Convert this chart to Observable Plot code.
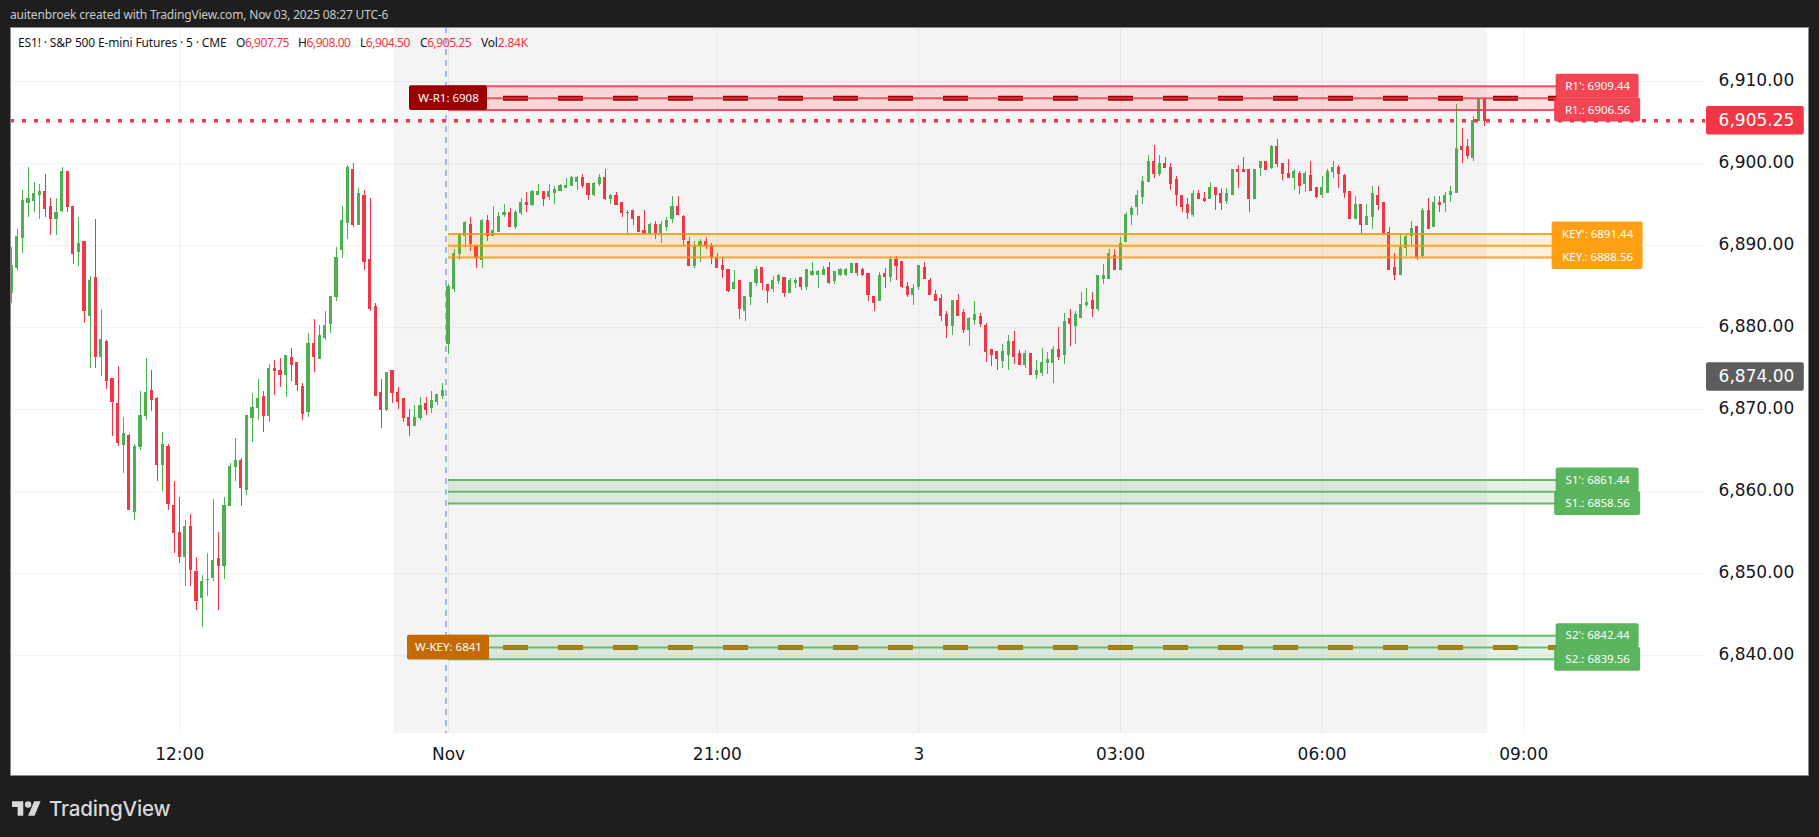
<!DOCTYPE html>
<html>
<head>
<meta charset="utf-8">
<script src="https://cdn.jsdelivr.net/npm/d3@7"></script>
<script src="https://cdn.jsdelivr.net/npm/@observablehq/plot@0.6"></script>
<style>
html,body{margin:0;padding:0;background:#1e1e1e;width:1819px;height:837px;overflow:hidden}
#top{height:27px;padding-left:10px;color:#c9c9c9;font:12px/29px "Noto Sans",sans-serif;letter-spacing:-.18px;white-space:nowrap}
#frame{position:relative;margin-left:10px;width:1799px;height:749px;background:#fff}
#frame::after{content:"";position:absolute;inset:0;border:1px solid #8a8a8a;pointer-events:none}
#frame svg{display:block}
#legend{position:absolute;left:0;top:0;font:12px "Noto Sans",sans-serif;letter-spacing:-.45px;color:#131722;white-space:nowrap}
#legend span{position:absolute;top:7px}
#legend b{font-weight:400;color:#f23645}
#foot{position:absolute;left:12px;top:796px;color:#d8d8d8;display:flex;align-items:center;gap:8px;font:500 20.6px "Inter","Noto Sans",sans-serif;letter-spacing:-.2px}
</style>
</head>
<body>
<div id="top">auitenbroek created with TradingView.com, Nov 03, 2025 08:27 UTC-6</div>
<div id="frame">
  <div id="chart"></div>
  <div id="legend">
    <span style="left:8px;letter-spacing:-.15px">ES1! · S&amp;P 500 E-mini Futures · 5 · CME</span>
    <span style="left:226px">O<b>6,907.75</b></span>
    <span style="left:288px">H<b>6,908.00</b></span>
    <span style="left:350px">L<b>6,904.50</b></span>
    <span style="left:410px">C<b>6,905.25</b></span>
    <span style="left:471px;letter-spacing:-.2px">Vol<b>2.84K</b></span>
  </div>
</div>
<div id="foot">
  <svg width="29" height="19" viewBox="0 2 36 22" fill="#d8d8d8"><path d="M14 22H7V11H0V4h14v18zM28 22h-8l7.5-18h8L28 22z"/><circle cx="20" cy="8" r="4"/></svg>
  <span>TradingView</span>
</div>
<script>
const opens=[
6884.25,6887.25,6891,6895.25,6895.5,6896.25,6896.5,6894.75,6893.25,6894.25,
6899,6894.75,6889.25,6890.5,6881.5,6886,6876.5,6878.25,6873.75,6870.75,
6865.75,6866.75,6857.5,6865.5,6869.25,6872.25,6871.25,6863.25,6865.5,6858.25,
6855,6852,6855.75,6850.25,6847,6849.25,6849.5,6851.75,6851,6858.25,
6863,6863.75,6860.25,6869,6870.25,6871.5,6869.25,6875,6874.75,6874.25,
6876.25,6875.75,6872.75,6869.75,6878,6876.25,6878.75,6880.5,6883.75,6889.5,
6892.75,6899.25,6892.5,6896,6888.25,6882.5,6872,6870,6874.75,6872,
6871.25,6869,6868,6869,6870.75,6870.25,6871,6871.75,
6878,6884.75,6889,6891.25,6892.5,6890,6888.25,6893,6891.25,6891.75,
6893.75,6894,6892.25,6894,6895.25,6895,6896.25,6896.5,6896,6896.5,
6896.75,6897,6897.25,6897.75,6898.25,6897.5,6896.25,6897.5,6898.25,6895.75,
6896,6895.25,6894,6894.25,6893.5,6891.75,6891.5,6892.5,6891.5,6892.25,
6893.25,6894.75,6893.5,6890.5,6887.5,6890,6890.5,6890,6888.5,6887.5,
6887,6884.75,6885.75,6882,6883.75,6885.5,6887.25,6885.25,6884.75,6885.75,
6886,6884.25,6885.5,6886,6885,6886.5,6886.5,6886.5,6887.25,6885.75,
6886.5,6886.5,6886.75,6887.75,6887,6886.5,6883.75,6883.25,6886.5,6886.25,
6888.25,6888,6885,6884,6885,6887.25,6885.75,6884,6883.5,6881.5,
6880.25,6883.25,6881.75,6879.75,6881,6881.25,6880.25,6877.25,6877,6876,
6876.75,6878.25,6876.75,6875.5,6876.75,6874.25,6874.5,6875.75,6875.75,6877.25,
6876.75,6881,6880.25,6881.25,6882.75,6883.25,6882.25,6886,6886,6888.75,
6887,6890.5,6893.75,6894.75,6896,6897.75,6900.25,6898.75,6900,6899.5,
6898,6896,6895,6893.75,6896.25,6895.75,6895.75,6897,6896.25,6895.5,
6896.25,6899.25,6899.25,6899.25,6895.75,6899.5,6900.25,6899.5,6902,6900,
6898.75,6898.25,6898.75,6897.5,6898.5,6897,6896.25,6896.5,6899,6899.5,
6898.5,6896.5,6893.25,6895,6892.5,6893.5,6896,6895.25,6891.5,6887.25,
6886.5,6889.75,6891.25,6892.25,6888.75,6894.25,6892.25,6895.25,6895.25,6896.25,
6896.5,6902,6902,6900.75,6905.25,6907.75];
const highs=[
6889.75,6892,6896.75,6899.5,6897.75,6897.5,6898.75,6895.75,6895.75,6899.5,
6899,6894.75,6893.5,6890.5,6886.25,6893.25,6882.25,6878.5,6873.75,6875.25,
6869,6867,6865.75,6872.25,6876.25,6874.75,6871.5,6867.25,6865.75,6861.25,
6859.25,6856.5,6857.25,6852,6849.75,6852.5,6859,6855,6859.25,6863.5,
6866.5,6864,6869.25,6872,6873.75,6872.25,6875.5,6876,6876.25,6876.5,
6877.5,6875.75,6873.25,6879.25,6881,6880.25,6882,6883.75,6889.75,6894.75,
6899.75,6900,6897,6896.75,6895.75,6883,6873.75,6874.5,6874.75,6872.75,
6871.25,6870,6870.5,6871.5,6871.5,6872.25,6871.75,6873.25,
6885.25,6889.5,6891.5,6893,6893.5,6890,6893.25,6893.75,6894.75,6894,
6895,6894.5,6894.25,6895.75,6896.5,6896.75,6897.5,6896.5,6897.5,6897.25,
6897.5,6898.25,6898.5,6898.5,6898.75,6897.5,6897.75,6898.75,6899.25,6896.25,
6896.5,6895.25,6894.25,6894.25,6893.5,6894.25,6892.75,6893,6893,6893.5,
6896,6896,6893.75,6891,6890.5,6890.75,6891,6890.25,6889,6888.5,
6887,6887,6885.75,6883.75,6885.5,6887.5,6887.25,6885.25,6886.25,6886.5,
6886,6886,6886,6886,6887,6888,6887,6887.5,6888,6886.75,
6887.25,6887.25,6887.75,6887.75,6887.25,6886.5,6883.75,6886.75,6887.25,6888.75,
6888.75,6888,6885.5,6885.25,6887.5,6888,6886,6884.5,6884,6882,
6883.25,6884,6882.25,6881.25,6883.25,6881.75,6880.5,6877.25,6877,6878,
6879,6879.5,6877.25,6877.25,6876.75,6876,6877.5,6877,6877.75,6880,
6881.75,6882.25,6882,6884.25,6884.75,6884.25,6886.25,6887.75,6889.5,6889.5,
6891,6894,6894.75,6896.75,6898.5,6901,6902.25,6901,6900.75,6900,
6898.5,6896,6895.75,6896.75,6896.75,6896.5,6897.75,6897,6897,6897,
6899.25,6899.75,6900.75,6899.25,6899.25,6900.25,6900.25,6902.25,6903,6900,
6900.5,6899.25,6899,6899,6900.25,6897,6898.5,6899.25,6900.25,6899.75,
6898.75,6896.5,6896,6895,6895,6897.25,6897.25,6895.25,6892.25,6889,
6891.25,6891.5,6893,6892.25,6894.5,6895.75,6896,6896,6896.5,6897.25,
6907.25,6904.25,6903,6905.75,6908,6908];
const lows=[
6883,6887,6889,6893.5,6894,6893.25,6893.5,6891.25,6891.25,6894,
6894,6887.75,6887.5,6880.5,6875,6875,6874,6872.5,6866.75,6865.5,
6862.25,6857.75,6856.5,6865,6868.75,6869.75,6861.25,6860,6857.75,6852.5,
6851.25,6848.5,6848.5,6845.5,6843.5,6847.25,6849,6845.5,6849.25,6858.25,
6861.25,6858.25,6859.5,6866,6868.75,6867.25,6868.5,6871.75,6872.75,6871.5,
6873.5,6872.25,6868.75,6869,6874.5,6876.25,6878.5,6879.25,6883.25,6888.5,
6890.75,6892.25,6892.5,6887,6882,6871.75,6867.75,6869.75,6870.75,6870,
6868.5,6866.75,6868,6868.75,6869.25,6869.5,6870.5,6871.25,
6876.75,6884.25,6888.25,6889.75,6889.25,6887.25,6887.25,6890.5,6891.25,6891.75,
6893.5,6892.25,6892,6893.75,6894,6894.75,6896.25,6894.75,6895.5,6895,
6896.75,6897,6897.25,6896.75,6897,6895.5,6896,6897.25,6895.5,6895,
6895,6893.5,6891.5,6892.5,6891.75,6891.25,6891.25,6890.75,6890.25,6891.75,
6892.75,6893.75,6890,6887.5,6887.25,6888,6889.5,6887.75,6887.25,6886,
6884.25,6884.75,6881,6880.75,6882.75,6885,6884.5,6883,6884.25,6885.25,
6883.75,6884.25,6884.75,6884.5,6884.5,6886.25,6884.75,6886.5,6885.25,6885.25,
6886.25,6886.25,6886.75,6886.25,6886.25,6883.25,6882,6883.25,6884.75,6885.5,
6885.75,6884.75,6883.75,6882.75,6884.5,6886,6884,6883.25,6880.75,6878.75,
6879,6881.5,6879.25,6877.75,6880.25,6880,6875.75,6875.25,6874.75,6875,
6874.75,6875.5,6875.5,6875,6874.25,6873.75,6874,6874.25,6873.25,6876,
6875.5,6877.75,6878,6881.25,6882.5,6881.25,6882,6885.25,6886,6887,
6887,6890.5,6892.5,6893.75,6895,6897.75,6898.25,6898.5,6899.5,6896.75,
6894.75,6894,6893.25,6893.5,6895.75,6895.25,6895.75,6894.25,6894.25,6895,
6896.25,6897,6899,6894,6895.75,6898.5,6899.25,6899.25,6899.5,6898,
6898.25,6896.75,6896.25,6896.5,6896.75,6895.75,6895.75,6896.5,6898.25,6897,
6895.75,6893.25,6893.25,6891.5,6892.5,6892,6894.25,6891.5,6887,6885.75,
6886.5,6888.75,6890,6888.25,6888.5,6892,6892.25,6894,6894,6895.25,
6896.5,6900,6900.5,6900.25,6905.25,6904.5];
const closes=[
6887.5,6891,6895.5,6895.75,6896.25,6896.5,6894.5,6893.25,6894,6899,
6894.75,6889,6890.25,6882,6885.75,6876.5,6878.5,6873.5,6871,6866,
6867,6857.75,6865.5,6869.25,6872,6871.25,6863.25,6865.75,6858.5,6855,
6852,6855.75,6850.5,6846.75,6849,6849.25,6851.5,6851,6858.25,6863,
6863.75,6860.5,6869.25,6870.25,6871.25,6869.25,6875,6874.75,6874.25,6876.5,
6875.5,6873,6869.5,6878,6876.5,6879,6880.25,6883.75,6888.5,6893,
6899.5,6892.5,6896.25,6888,6882.25,6871.75,6870,6874.5,6872,6871,
6869,6868,6869,6870.5,6870,6871,6871.75,6872.25,
6885,6889,6891.25,6892.75,6890.25,6888.5,6893,6891.25,6891.75,6893.5,
6894,6892.25,6894,6895.25,6895,6896.5,6896.5,6895.75,6896.5,6896.75,
6897.25,6897.25,6898.25,6898.25,6897.25,6896.25,6897.5,6898.25,6895.75,6896,
6895,6894,6894,6893.25,6891.75,6891.5,6892.5,6891.5,6892.5,6893,
6894.75,6893.75,6890.75,6887.5,6890,6890.5,6890,6888.5,6887.25,6887,
6884.5,6885.5,6882.25,6883.75,6885.5,6887,6885.5,6884.5,6885.75,6886.25,
6884.25,6885.75,6885.75,6885,6887,6886.75,6886.75,6887,6885.5,6886.75,
6887,6887,6887.75,6886.75,6886.5,6884,6883,6886.25,6886.25,6888.25,
6887.5,6885,6884,6884.75,6887.5,6886,6884,6883.25,6881.5,6880.25,
6883.25,6881.5,6879.75,6881,6881.5,6880.5,6877,6876.75,6876.25,6877,
6878.25,6876.5,6875.5,6876.75,6874.25,6874.75,6875.75,6876,6877.25,6876.5,
6880.75,6880.5,6881.5,6882.75,6883,6882.25,6886.25,6886.25,6889,6887,
6890.25,6893.75,6894.5,6896,6897.75,6900.25,6898.75,6900,6899.5,6897.5,
6896.25,6894.75,6894,6896.25,6895.75,6895.5,6897,6896.25,6895.25,6896.25,
6899.25,6899,6899,6895.75,6899.25,6900.25,6899.25,6902,6900,6898.75,
6898.25,6899,6897.25,6898.75,6896.75,6896,6897,6899,6899.5,6898.75,
6896.5,6893.25,6895,6892.5,6893.5,6896.25,6895,6891.5,6887,6886.5,
6889.75,6891,6892,6888.5,6894.25,6892,6895.25,6895,6896,6896.5,
6901.75,6901.75,6901,6905.25,6907.75,6905.25];

const priceTicks=[6840,6850,6860,6870,6880,6890,6900,6910];
const timeTicks=[30,78,126,162,198,234,270];
const timeLabels=["12:00","Nov","21:00","3","03:00","06:00","09:00"];
const sessionBars=[68.36,263.54];
const zoneStartBar=[78];
const zoneEndBar=[276];
const zoneNames=["R1","KEY","S1","S2"];
const zoneUpper=[6909.44,6891.44,6861.44,6842.44];
const zoneMiddle=[6908,6890,6860,6841];
const zoneLower=[6906.56,6888.56,6858.56,6839.56];
const zoneColors=["#f23645","#ff9800","#4caf50","#4caf50"];
const weeklyNames=["W-R1: 6908","W-KEY: 6841"];
const weeklyLevels=[6908,6841];
const weeklyColors=["#990000","#c46a05"];
const lastPrice=[6905.25];
const countdownPrice=[6874];

// pixel helpers: the frame holds 5.6 px per bar and 8.2 px per point
const px=p=>p/5.6, py=p=>p/8.2;
const xDomain=[-0.214,302.46];
const yDomain=[6830.52,6916.62];
const bars=d3.range(opens.length).map(i=>({i,o:opens[i],h:highs[i],l:lows[i],c:closes[i],col:closes[i]>=opens[i]?"#4caf50":"#f23645"}));
const zones=zoneNames.map((n,i)=>({n,up:zoneUpper[i],mid:zoneMiddle[i],lo:zoneLower[i],col:zoneColors[i]}));
const sideBar=283.2;
const sideLabels=zones.flatMap(z=>[
  {t:`${z.n}': ${z.up.toFixed(2)}`,y:z.up,col:z.col,w:z.n==="KEY"?91:83},
  {t:`${z.n}.: ${z.lo.toFixed(2)}`,y:z.lo,col:z.col,w:z.n==="KEY"?91:86}]);
const midLabels=zones.map(z=>({t:`${z.n}: ${z.mid}`,y:z.mid,col:z.col}));
const weekly=weeklyNames.map((t,i)=>({t,y:weeklyLevels[i],col:weeklyColors[i],w:t.startsWith("W-KEY")?82:78}));
const x1=d=>zoneStartBar[0], x2=d=>zoneEndBar[0];
const tagL=302.64,tagR=320.1,tagText=304.8;

const plot=Plot.plot({
  width:1799,height:749,marginLeft:0,marginRight:104,marginTop:0,marginBottom:43,
  style:{background:"#fff",fontFamily:"'DejaVu Sans',sans-serif",color:"#131722"},
  x:{domain:xDomain,axis:null},
  y:{domain:yDomain,axis:null},
  marks:[
    Plot.rect([sessionBars],{x1:d=>d[0],x2:d=>d[1],y1:yDomain[0],y2:yDomain[1],fill:"#f4f4f4"}),
    Plot.gridX(timeTicks,{stroke:"#000",strokeOpacity:0.055}),
    Plot.gridY(priceTicks,{stroke:"#000",strokeOpacity:0.055}),
    Plot.ruleX([77.55],{stroke:"#4a7fd9",strokeWidth:1,strokeDasharray:"6,5"}),
    Plot.ruleX(bars,{x:"i",y1:"l",y2:"h",stroke:"col",strokeWidth:1,shapeRendering:"crispEdges"}),
    Plot.rect(bars,{x1:d=>d.i-0.27,x2:d=>d.i+0.27,y1:"o",y2:"c",fill:"col",insetTop:-0.6,insetBottom:-0.6,shapeRendering:"crispEdges"}),
    Plot.rect(zones,{x1,x2,y1:"lo",y2:"up",fill:"col",fillOpacity:0.15}),
    Plot.ruleY(zones,{y:"up",x1,x2,stroke:"col",strokeWidth:2,strokeOpacity:0.85}),
    Plot.ruleY(zones,{y:"lo",x1,x2,stroke:"col",strokeWidth:2,strokeOpacity:0.85}),
    Plot.ruleY(weekly,{y:"y",x1,x2,stroke:"col",strokeWidth:5,strokeDasharray:"25,30"}),
    Plot.ruleY(zones,{y:"mid",x1,x2,stroke:"col",strokeWidth:2,strokeOpacity:0.8}),
    Plot.ruleY(lastPrice,{y:d=>d,stroke:"#f23645",strokeWidth:3.5,strokeDasharray:"4,8"}),
    // labels at the right end of each zone
    Plot.text(midLabels,{x:sideBar,y:"y",text:"t",fill:"#fff",fontFamily:"'Noto Sans',sans-serif",fontSize:11.5}),
    Plot.rect(sideLabels,{x1:d=>sideBar-px(d.w/2),x2:d=>sideBar+px(d.w/2),y1:d=>d.y-py(12),y2:d=>d.y+py(12),fill:"col",fillOpacity:0.92,r:2}),
    Plot.text(sideLabels,{x:sideBar,y:"y",text:"t",fill:"#fff",fontFamily:"'Noto Sans',sans-serif",fontSize:11.5}),
    // weekly labels on the left
    Plot.rect(weekly,{x1:d=>78-px(d.w/2),x2:d=>78+px(d.w/2),y1:d=>d.y-py(12.4),y2:d=>d.y+py(12.4),fill:"col",r:2}),
    Plot.text(weekly,{x:78,y:"y",text:"t",fill:"#fff",fontFamily:"'Noto Sans',sans-serif",fontSize:11.5}),
    // axes
    Plot.axisY(priceTicks,{anchor:"right",tickSize:0,tickPadding:13,tickFormat:d3.format(",.2f"),fontSize:17,label:null,fill:"#131722",dy:-1}),
    Plot.axisX(timeTicks,{anchor:"bottom",tickSize:0,tickPadding:14,tickFormat:d=>timeLabels[timeTicks.indexOf(d)],fontSize:17,label:null,fill:"#131722"}),
    // price tags on the axis
    Plot.rect(lastPrice,{x1:tagL,x2:tagR,y1:d=>d-py(14.3),y2:d=>d+py(14.3),fill:"#f23645",r:2}),
    Plot.text(lastPrice,{x:tagText,y:d=>d,text:d=>d3.format(",.2f")(d),fill:"#fff",fontSize:17,textAnchor:"start"}),
    Plot.rect(countdownPrice,{x1:tagL,x2:tagR,y1:d=>d-py(14.3),y2:d=>d+py(14.3),fill:"#5d5d5d",r:2}),
    Plot.text(countdownPrice,{x:tagText,y:d=>d,text:d=>d3.format(",.2f")(d),fill:"#fff",fontSize:17,textAnchor:"start"})
  ]
});
document.getElementById("chart").appendChild(plot);
</script>
</body>
</html>
